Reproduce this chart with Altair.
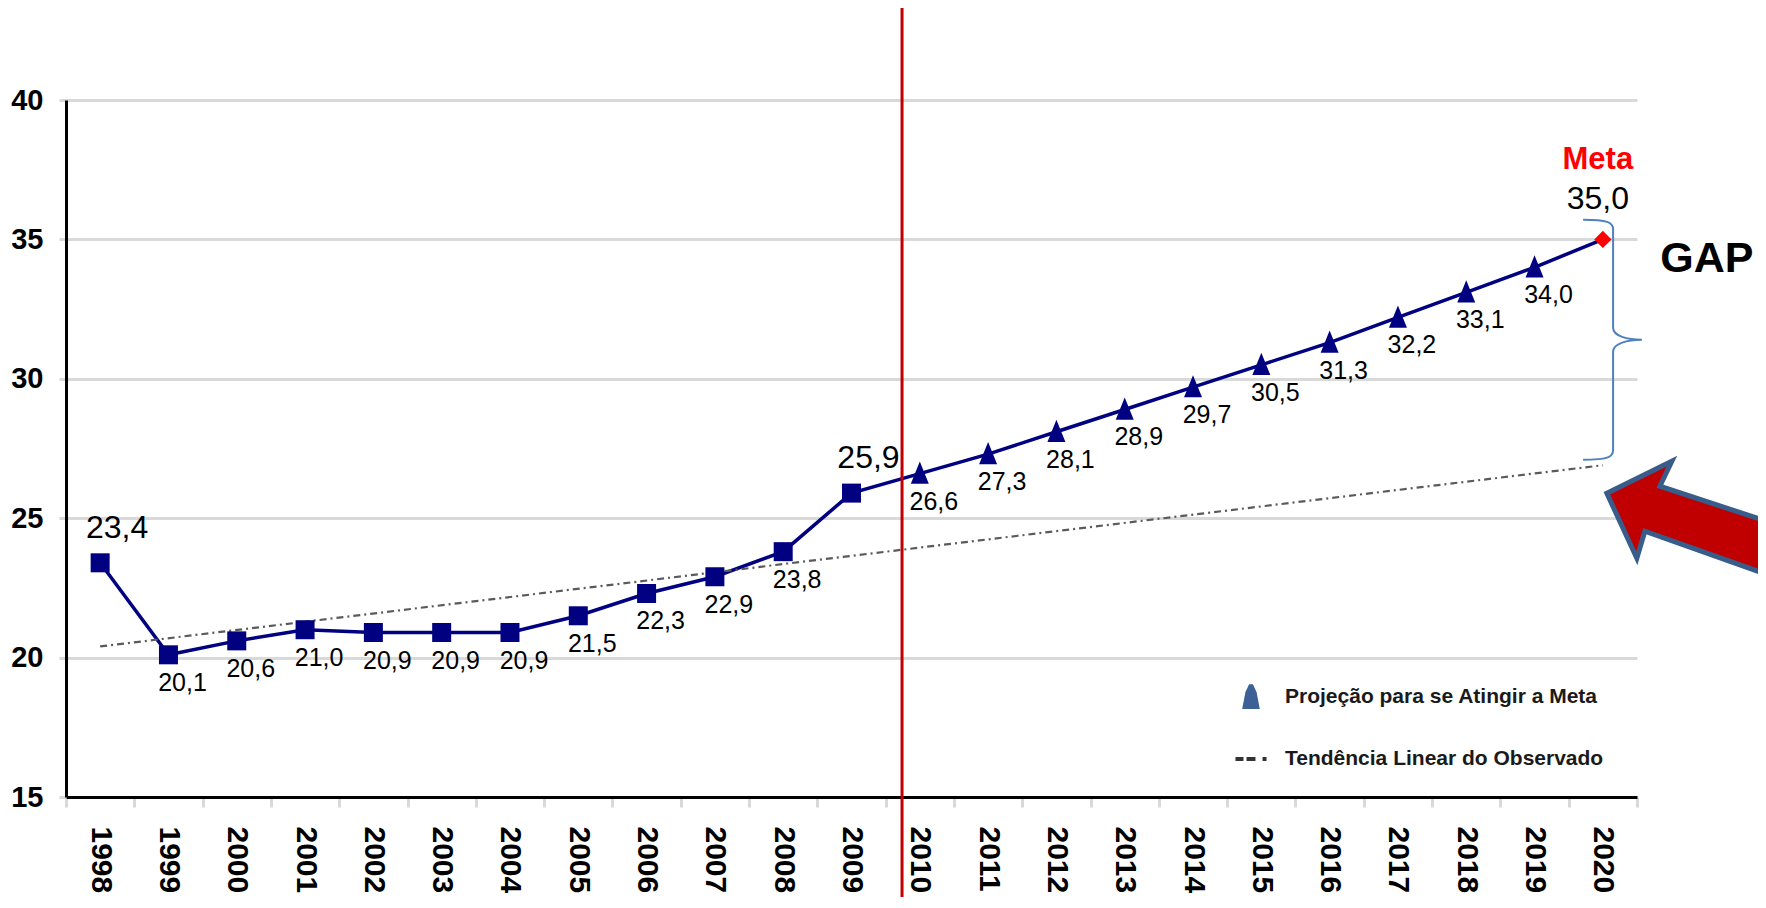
import altair as alt
import pandas as pd

# ---------------- dados ----------------
anos = ["1998", "1999", "2000", "2001", "2002", "2003", "2004", "2005", "2006",
        "2007", "2008", "2009", "2010", "2011", "2012", "2013", "2014", "2015",
        "2016", "2017", "2018", "2019", "2020"]
observado = [23.4, 20.1, 20.6, 21.0, 20.9, 20.9, 20.9, 21.5, 22.3, 22.9, 23.8, 25.9]
projecao = [26.6, 27.3, 28.1, 28.9, 29.7, 30.5, 31.3, 32.2, 33.1, 34.0]
meta = [35.0]
tendencia_anos = ["1998", "2020"]
tendencia_valores = [20.4, 26.9]
destaques = ["1998", "2009"]
legenda = ["Projeção para se Atingir a Meta", "Tendência Linear do Observado"]
divisor_ano = ["2010"]
meta_titulo = ["Meta"]
gap_texto = ["GAP"]
gap_y = [34.3]
chave_y = [31.4]
y_ticks = [15, 20, 25, 30, 35, 40]

NAVY = "#000080"
FONT = "Liberation Sans"

serie = ["observado"] * len(observado) + ["projecao"] * len(projecao) + ["meta"] * len(meta)
df = pd.DataFrame({"ano": anos, "valor": observado + projecao + meta, "serie": serie})
df["rotulo"] = df["valor"].map(lambda v: f"{v:.1f}".replace(".", ","))
df["destaque"] = df["ano"].isin(destaques)

df_tend = pd.DataFrame({"ano": tendencia_anos, "valor": tendencia_valores})
df_div = pd.DataFrame({"ano": divisor_ano})
df_leg = pd.DataFrame({"legenda": legenda})
df_meta = pd.DataFrame({"ano": [anos[-1]], "valor": meta, "titulo": meta_titulo})
df_gap = pd.DataFrame({"ano": [anos[-1]], "valor": gap_y, "texto": gap_texto})
df_chave = pd.DataFrame({"ano": [anos[-1]], "valor": chave_y})
df_seta = pd.DataFrame({"ano": [tendencia_anos[-1]], "valor": [tendencia_valores[-1]]})

# ---------------- escalas / eixos ----------------
xscale = alt.Scale(type="band", domain=anos, paddingInner=0, paddingOuter=0)
yscale = alt.Scale(domain=[15, 40], nice=False, zero=False)

x_axis = alt.Axis(title=None, labelAngle=90, labelAlign="left", labelBaseline="middle",
                  labelFont=FONT, labelFontWeight="bold", labelFontSize=30,
                  labelColor="black", labelPadding=19, labelOverlap=False,
                  domainColor="black", domainWidth=3,
                  tickColor="#d9d9d9", tickWidth=3, tickSize=10, tickBand="extent",
                  grid=False)
y_axis = alt.Axis(title=None, values=y_ticks, grid=True, gridColor="#d9d9d9", gridWidth=3,
                  domainColor="black", domainWidth=3,
                  tickColor="#d9d9d9", tickWidth=3, tickSize=7,
                  labelFont=FONT, labelFontWeight="bold", labelFontSize=29,
                  labelColor="black", labelPadding=16)


def X(band=None):
    if band is None:
        return alt.X("ano:N", scale=xscale, axis=x_axis)
    return alt.X("ano:N", scale=xscale, axis=x_axis, bandPosition=band)


Y = alt.Y("valor:Q", scale=yscale, axis=y_axis)

base = alt.Chart(df)

linha = base.mark_line(color=NAVY, strokeWidth=3.5).encode(x=X(), y=Y)

tendencia = alt.Chart(df_tend).mark_line(
    color="#5a5a5a", strokeWidth=2.2, strokeDash=[7, 4, 2, 4]
).encode(x=X(), y=Y)

quadrados = base.transform_filter(alt.datum.serie == "observado").mark_point(
    shape="square", filled=True, size=361, color=NAVY, opacity=1
).encode(x=X(), y=Y)

tri_path = "M0 -1 L-0.75 0.85 L0.75 0.85 Z"
triangulos = base.transform_filter(alt.datum.serie == "projecao").mark_point(
    shape=tri_path, filled=True, size=576, color=NAVY, opacity=1
).encode(x=X(), y=Y)

ponto_meta = base.transform_filter(alt.datum.serie == "meta").mark_point(
    shape="diamond", filled=True, size=300, color="#ff0000", opacity=1
).encode(x=X(), y=Y)

rotulos = base.transform_filter(
    (alt.datum.serie != "meta") & (alt.datum.destaque == False)
).mark_text(font=FONT, fontSize=25, color="black", dx=14, dy=28).encode(
    x=X(), y=Y, text="rotulo:N")

rotulos_grandes = base.transform_filter(alt.datum.destaque == True).mark_text(
    font=FONT, fontSize=32, color="black", dx=17, dy=-35
).encode(x=X(), y=Y, text="rotulo:N")

rotulo_meta = base.transform_filter(alt.datum.serie == "meta").mark_text(
    font=FONT, fontSize=32, color="black", dx=-5, dy=-40
).encode(x=X(), y=Y, text="rotulo:N")

titulo_meta = alt.Chart(df_meta).mark_text(
    font=FONT, fontSize=31, fontWeight="bold", color="#ff0000", dx=-5, dy=-79
).encode(x=X(), y=Y, text="titulo:N")

divisor = alt.Chart(df_div).mark_rule(color="#c00000", strokeWidth=3).encode(
    x=X(0.24), y=alt.value(-120), y2=alt.value(950))

# legenda
tri_leg = "M-0.55 0.75 L-0.35 -0.3 L-0.12 -0.8 L0.12 -0.8 L0.35 -0.3 L0.55 0.75 Z"
dash_leg = ("M-0.97 -0.12 H-0.47 V0.12 H-0.97 Z "
            "M-0.28 -0.12 H0.28 V0.12 H-0.28 Z "
            "M0.72 -0.12 H0.97 V0.12 H0.72 Z")
leg = alt.Legend(title=None, orient="none", legendX=1169, legendY=581,
                 symbolSize=1024, symbolOpacity=1, symbolStrokeWidth=0,
                 labelFont=FONT, labelFontSize=21, labelFontWeight="bold",
                 labelColor="#1a1a1a", labelOffset=18, rowPadding=34, padding=0,
                 labelLimit=600)
legenda_layer = alt.Chart(df_leg).mark_point(filled=True, opacity=0).encode(
    shape=alt.Shape("legenda:N", scale=alt.Scale(domain=legenda, range=[tri_leg, dash_leg]), legend=leg),
    color=alt.Color("legenda:N", scale=alt.Scale(domain=legenda, range=["#3b6196", "#333333"]), legend=leg),
)

# anotações: GAP, chave, seta
gap = alt.Chart(df_gap).mark_text(
    font=FONT, fontSize=43, fontWeight="bold", color="black", dx=104
).encode(x=X(), y=Y, text="texto:N")

chave_path = ("M-0.25 -1 C-0.05 -1 0 -0.98 0 -0.92 L0 -0.1 C0 -0.03 0.12 0 0.24 0 "
              "C0.12 0 0 0.03 0 0.1 L0 0.92 C0 0.98 -0.05 1 -0.25 1")
chave = alt.Chart(df_chave).mark_point(
    shape=chave_path, filled=False, size=57600, color="#4f81bd", strokeWidth=2, opacity=1
).encode(x=X(0.65), y=Y)

seta_path = ("M0.04 0.28 L0.69 -0.04 L0.57 0.21 L2.4 0.81 L2.4 1.36 "
             "L0.42 0.66 L0.34 0.93 Z")
seta = alt.Chart(df_seta).mark_point(
    shape=seta_path, filled=True, size=40000, fill="#c00000", stroke="#385d8a",
    strokeWidth=5, opacity=1, fillOpacity=1, strokeJoin="miter"
).encode(x=X(), y=Y)

chart = alt.layer(
    linha, tendencia, divisor, quadrados, triangulos, ponto_meta,
    rotulos, rotulos_grandes, rotulo_meta, titulo_meta,
    legenda_layer, gap, chave, seta
).properties(
    width=1571, height=697,
    autosize=alt.AutoSizeParams(type="none"),
    padding={"left": 58, "top": 92, "right": 121, "bottom": 100},
    background="white",
).configure_view(stroke=None)

chart.save("out.html", embed_options={"renderer": "svg", "actions": False})
